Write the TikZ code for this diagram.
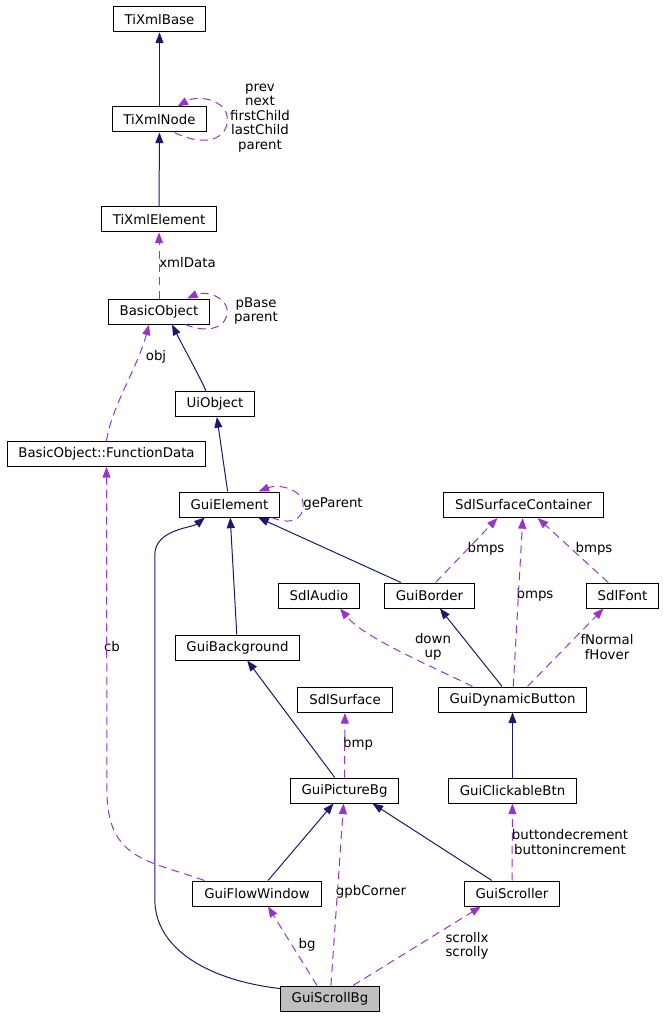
\documentclass[tikz,border=0pt]{standalone}
\usepackage{fontspec}
\setmainfont{DejaVu Sans}
\usepackage{tikz}
\usetikzlibrary{arrows.meta,calc}
\definecolor{inhblue}{HTML}{191970}
\definecolor{usepurple}{HTML}{9A32CD}
\definecolor{selgray}{HTML}{BFBFBF}
\tikzstyle{cls}=[draw=black, fill=white, line width=0.75pt,% one class box
minimum height=18.75pt, inner xsep=8.5pt, inner ysep=0pt, font=\fontsize{10pt}{10.9pt}\selectfont]
\tikzstyle{inh}=[draw=inhblue, line width=0.75pt, -{Triangle[length=8pt,width=6pt]}]
\tikzstyle{use}=[draw=usepurple, line width=0.75pt, dash pattern=on 6pt off 4pt, -{Triangle[length=8pt,width=6pt]}]
\tikzstyle{lbl}=[align=center, inner sep=0pt, font=\fontsize{10pt}{10.9pt}\selectfont]

\begin{document}
\begin{tikzpicture}[x=0.75pt,y=-0.75pt]
\useasboundingbox (0,0) rectangle (663,1016);
\node[cls] (base) at (159.5,19.5) {TiXmlBase};
\node[cls] (xnode) at (159.5,119.5) {TiXmlNode};
\node[cls] (elem) at (159,219.5) {TiXmlElement};
\node[cls] (basic) at (159,311.5) {BasicObject};
\node[cls] (ui) at (215,404) {UiObject};
\node[cls] (fdata) at (106.5,454) {BasicObject::FunctionData};
\node[cls] (guielem) at (229.5,504.5) {GuiElement};
\node[cls] (surfcont) at (523.5,505) {SdlSurfaceContainer};
\node[cls] (audio) at (319,595.5) {SdlAudio};
\node[cls] (border) at (429.5,595.5) {GuiBorder};
\node[cls] (sdlfont) at (622.5,595.5) {SdlFont};
\node[cls] (backgr) at (237.5,647.5) {GuiBackground};
\node[cls] (surface) at (345,700) {SdlSurface};
\node[cls] (dynbtn) at (512.5,699.5) {GuiDynamicButton};
\node[cls] (picbg) at (344.5,790.5) {GuiPictureBg};
\node[cls] (clickbtn) at (512.5,790.5) {GuiClickableBtn};
\node[cls] (flowwin) at (257,893.5) {GuiFlowWindow};
\node[cls] (scroller) at (512,893.5) {GuiScroller};
\node[cls, fill=selgray] (scrollbg) at (330,998.5) {GuiScrollBg};
% labels
\node[lbl] (l-prev) at (260,118) {prev\\next\\firstChild\\lastChild\\parent};
\node[lbl, anchor=west] (l-xml) at (159,263) {xmlData};
\node[lbl] (l-pbase) at (256,311) {pBase\\parent};
\node[lbl] (l-obj) at (156,357) {obj};
\node[lbl] (l-cb) at (112,647) {cb};
\node[lbl] (l-gepar) at (333,504) {geParent};
\node[lbl] (l-bmps1) at (486,549) {bmps};
\node[lbl] (l-bmps2) at (535,595) {bmps};
\node[lbl] (l-bmps3) at (594,549) {bmps};
\node[lbl] (l-down) at (433,647) {down\\up};
\node[lbl] (l-fnorm) at (607,647) {fNormal\\fHover};
\node[lbl] (l-bmp) at (358,744) {bmp};
\node[lbl] (l-button) at (570,842) {buttondecrement\\buttonincrement};
\node[lbl] (l-gpb) at (371,892) {gpbCorner};
\node[lbl] (l-bg) at (307,945) {bg};
\node[lbl] (l-scroll) at (467,946) {scrollx\\scrolly};
% inheritance
\draw[inh] (xnode) -- (base);
\draw[inh] (elem) -- (xnode);
\draw[inh] ($(ui.north)+(-9,0)$) .. controls +(-4,-10) and +(10,20) .. ($(basic.south)+(13,0)$);
\draw[inh] (guielem) -- (ui);
\draw[inh] (border) -- (guielem);
\draw[inh] (backgr) -- (guielem);
\draw[inh] ($(scrollbg.north west)+(0,3)$) .. controls +(-70,-8) and +(0,50) .. ++(-125,-89)
  -- ++(0,-345) .. controls +(0,-25) and +(-12,10) .. ($(guielem.south west)+(26,0)$);
\draw[inh] (picbg) -- (backgr);
\draw[inh] (dynbtn) -- (border);
\draw[inh] (clickbtn) -- (dynbtn);
\draw[inh] (flowwin) -- (picbg);
\draw[inh] (scroller) -- ($(picbg.south)+(28,0)$);
% usage
\draw[use] ($(xnode.south)+(15,0)$) .. controls +(30,15) and +(0,20) .. ($(xnode.east)+(20,0)$)
  .. controls +(0,-20) and +(20,-12) .. ($(xnode.north)+(18,0)$);
\draw[use] (basic) -- (elem);
\draw[use] ($(basic.south)+(26,0)$) .. controls +(25,10) and +(0,15) .. ($(basic.east)+(17,0)$)
  .. controls +(0,-15) and +(18,-8) .. ($(basic.north)+(28,0)$);
\draw[use] (fdata.north) .. controls +(5,-35) and +(-12,45) .. ($(basic.south)+(-10,0)$);
\draw[use] ($(flowwin.north west)+(12,0)$) .. controls +(-55,-20) and +(0,70) .. ++(-97.5,-90) -- (fdata.south);
\draw[use] ($(guielem.south)+(42,0)$) .. controls +(20,8) and +(0,15) .. ($(guielem.east)+(23,0)$)
  .. controls +(0,-15) and +(20,-8) .. ($(guielem.north)+(29,0)$);
\draw[use] ($(border.north)+(6,0)$) -- ($(surfcont.south)+(-26,0)$);
\draw[use] (dynbtn) -- (surfcont);
\draw[use] (sdlfont) -- (surfcont);
\draw[use] ($(dynbtn.north)+(-40,0)$) .. controls +(-40,-20) and +(25,30) .. ($(audio.south)+(21,0)$);
\draw[use] ($(dynbtn.north)+(15,0)$) -- ($(sdlfont.south)+(-19,0)$);
\draw[use] (picbg) -- (surface);
\draw[use] (scroller) -- (clickbtn);
\draw[use] ($(scrollbg.north)+(-13,0)$) -- ($(flowwin.south)+(11,0)$);
\draw[use] (scrollbg) -- (picbg);
\draw[use] ($(scrollbg.north)+(23,0)$) -- ($(scroller.south)+(-31,0)$);
\end{tikzpicture}
\end{document}
